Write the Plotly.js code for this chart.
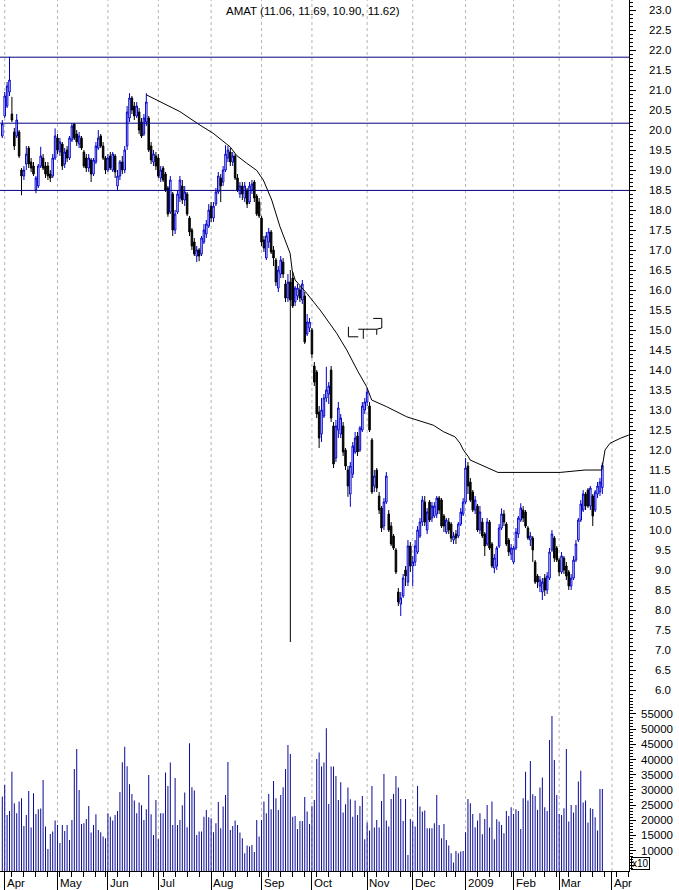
<!DOCTYPE html>
<html>
<head>
<meta charset="utf-8">
<script src="https://cdn.plot.ly/plotly-3.0.1.min.js"></script>
<style>
  html, body { margin: 0; padding: 0; background: #fff; }
  #chart { width: 679px; height: 890px; }
</style>
</head>
<body>
<div id="chart"></div>
<script>
// ---- Data ----
const TITLE = 'AMAT (11.06, 11.69, 10.90, 11.62)';

const OPEN = [
19.85,20.35,20.60,20.95,20.40,19.95,19.85,19.95,19.00,18.85,
19.15,19.55,19.20,19.10,18.50,18.60,19.10,19.30,19.10,19.10,
18.90,18.85,19.30,19.80,19.45,19.65,19.15,19.50,19.30,19.75,
20.15,19.90,19.65,19.80,19.45,19.30,19.05,19.25,18.90,19.20,
19.55,19.85,19.60,19.30,19.00,19.35,19.00,19.35,18.60,18.85,
19.20,19.00,19.60,20.30,20.80,20.60,20.35,20.45,20.20,19.90,
20.20,20.30,19.60,19.20,19.35,19.30,18.80,19.05,18.90,18.55,
17.95,18.40,17.50,17.95,18.30,18.60,18.25,18.40,17.80,17.50,
17.20,16.85,17.00,16.90,17.20,17.40,17.60,18.10,17.80,18.15,
18.45,18.80,18.70,19.00,19.30,19.45,19.20,19.35,18.80,18.40,
18.60,18.30,18.50,18.20,18.50,18.70,18.35,18.20,17.80,17.25,
16.80,17.20,17.45,17.00,16.75,16.05,16.40,16.70,16.15,15.80,
16.20,16.30,15.70,15.85,16.00,15.75,15.85,14.90,15.05,15.00,
14.10,13.95,12.95,12.40,12.85,13.30,13.40,14.00,12.60,11.80,
12.50,12.40,12.60,12.00,11.50,10.90,11.40,11.95,12.35,12.00,
12.50,13.00,13.20,13.10,12.25,11.10,11.50,10.85,10.55,10.10,
10.70,10.40,10.10,9.85,9.50,8.45,8.15,8.35,9.00,8.70,
9.60,9.10,9.20,9.45,9.85,10.20,10.70,10.00,10.70,10.30,
10.35,10.40,10.80,10.75,10.35,9.95,10.20,10.15,9.75,9.90,
9.85,10.15,10.40,10.70,11.60,11.20,10.95,10.50,10.60,10.00,
10.20,9.90,9.65,10.20,9.65,9.05,9.10,9.60,10.05,10.40,
10.15,9.75,9.40,9.20,9.55,9.90,10.25,10.50,10.45,10.05,
9.75,9.80,9.20,8.85,8.60,8.45,8.80,8.50,8.80,9.50,
9.80,9.55,9.25,8.95,9.30,9.10,8.95,8.60,8.80,9.25,
9.75,10.25,10.50,10.90,11.00,10.60,10.85,10.50,10.90,10.95,
11.06];

const HIGH = [
20.25,20.95,21.20,21.83,20.83,20.05,20.40,20.00,19.05,19.10,
19.60,19.60,19.30,19.20,18.85,19.15,19.58,19.40,19.20,19.20,
19.00,19.40,20.04,19.90,19.80,19.70,19.55,19.60,19.85,20.17,
20.17,20.00,19.95,19.85,19.50,19.40,19.40,19.30,19.30,19.70,
20.00,19.90,19.70,19.35,19.40,19.45,19.45,19.40,19.00,19.25,
19.35,19.60,20.60,20.92,20.85,20.70,20.70,20.55,20.30,20.40,
20.92,20.35,19.70,19.50,19.45,19.40,19.10,19.10,18.95,18.60,
18.85,18.45,18.00,18.50,18.85,18.75,18.60,18.45,17.85,17.55,
17.30,17.10,17.05,17.35,17.65,17.75,18.15,18.20,18.20,18.55,
18.95,18.90,19.10,19.62,19.60,19.55,19.45,19.40,18.90,18.70,
18.70,18.70,18.55,18.70,18.75,18.75,18.40,18.30,17.85,17.35,
17.45,17.55,17.50,17.10,16.80,16.60,16.85,16.80,16.25,16.40,
16.50,16.45,16.10,16.15,16.10,16.25,15.95,15.40,15.30,15.05,
14.20,14.00,13.10,13.30,13.40,14.08,13.70,14.10,12.70,12.75,
13.20,12.90,12.70,12.05,11.60,11.70,12.20,12.45,12.45,12.60,
13.20,13.30,13.55,13.20,12.30,11.50,11.55,10.95,10.60,10.80,
11.45,10.50,10.20,9.90,9.55,8.55,8.45,8.90,9.10,9.75,
9.70,9.35,9.75,10.10,10.30,10.85,10.85,10.55,10.75,10.70,
10.70,10.85,10.85,10.80,10.40,10.30,10.30,10.20,9.95,10.00,
10.20,10.55,10.80,11.80,11.70,11.30,11.00,10.85,10.65,10.60,
10.30,9.95,10.30,10.25,9.70,9.40,9.60,10.15,10.54,10.50,
10.20,9.80,9.65,9.60,10.05,10.35,10.67,10.60,10.50,10.10,
9.95,9.85,9.25,8.90,8.85,8.80,8.90,8.95,9.55,10.00,
9.85,9.60,9.30,9.45,9.35,9.20,9.00,8.90,9.35,9.75,
10.30,10.75,11.00,10.95,11.05,11.10,10.90,11.00,11.20,11.30,
11.69];

const LOW = [
19.80,20.30,20.55,20.85,20.20,19.50,19.80,19.30,18.37,18.75,
19.00,19.05,18.95,18.85,18.42,18.55,19.05,19.00,18.80,18.75,
18.70,18.80,19.25,19.40,19.35,19.00,19.05,19.20,19.25,19.70,
19.75,19.60,19.55,19.50,19.05,18.95,18.95,18.70,18.85,19.15,
19.50,19.55,19.25,18.90,18.95,19.00,18.95,18.80,18.50,18.75,
18.90,18.92,19.50,20.20,20.40,20.25,20.30,19.90,19.80,19.85,
20.10,19.45,19.15,19.10,19.00,18.80,18.70,18.70,18.45,17.83,
17.90,17.35,17.40,17.90,18.20,18.15,18.10,17.85,17.35,17.00,
16.85,16.70,16.72,16.85,17.15,17.30,17.55,17.70,17.70,18.10,
18.40,18.20,18.60,18.95,19.20,19.10,19.10,18.75,18.45,18.30,
18.25,18.20,18.05,18.15,18.40,18.20,17.85,17.80,17.10,16.95,
16.75,17.05,16.90,16.60,16.10,15.95,16.30,16.30,15.70,15.70,
7.20,15.55,15.60,15.75,15.70,15.65,14.65,14.85,14.95,14.30,
13.60,12.80,12.05,12.20,12.80,13.20,13.15,12.70,11.55,11.70,
12.30,12.30,11.85,11.50,10.83,10.58,11.30,11.90,11.85,11.95,
12.45,12.90,13.10,12.45,10.90,10.95,10.95,10.40,9.95,10.00,
10.65,9.95,9.60,9.50,8.90,8.10,7.85,8.30,8.60,8.60,
8.95,8.60,9.10,9.40,9.80,10.10,10.10,9.90,10.20,10.20,
10.30,10.30,10.40,10.05,9.95,9.90,9.90,9.70,9.65,9.65,
9.80,10.10,10.35,10.65,10.90,10.70,10.45,10.40,9.95,9.90,
9.80,9.35,9.60,9.50,9.05,8.92,9.00,9.55,10.00,10.10,
9.60,9.35,9.25,9.15,9.50,9.80,10.20,10.20,10.05,9.75,
9.60,9.20,8.65,8.55,8.45,8.25,8.35,8.40,8.75,9.45,
9.20,9.20,8.85,8.90,8.90,8.75,8.50,8.50,8.75,9.20,
9.70,10.20,10.45,10.50,10.55,10.50,10.10,10.45,10.80,10.85,
10.90];

const CLOSE = [
20.15,20.85,21.10,21.25,20.25,19.60,20.25,19.35,18.85,19.00,
19.40,19.15,19.05,18.90,18.80,19.10,19.35,19.05,18.90,18.85,
18.80,19.30,19.85,19.50,19.70,19.10,19.45,19.30,19.80,20.10,
19.80,19.70,19.85,19.55,19.10,19.05,19.30,18.90,19.25,19.60,
19.80,19.60,19.30,19.00,19.30,19.05,19.40,18.95,18.85,19.20,
19.00,19.50,20.45,20.80,20.50,20.35,20.60,20.00,19.85,20.30,
20.70,19.50,19.25,19.40,19.10,18.85,19.00,18.75,18.50,17.90,
18.75,17.50,17.90,18.40,18.75,18.25,18.45,17.90,17.45,17.10,
16.90,17.00,16.85,17.30,17.50,17.65,18.00,17.80,18.10,18.45,
18.85,18.60,19.00,19.40,19.50,19.20,19.35,18.80,18.50,18.60,
18.40,18.60,18.15,18.60,18.65,18.30,17.90,17.85,17.20,17.05,
17.35,17.45,16.95,16.80,16.20,16.50,16.75,16.40,15.80,16.20,
15.75,15.60,16.05,16.05,15.80,16.15,14.70,15.20,15.20,14.40,
13.70,12.90,12.30,13.00,13.30,13.50,13.60,12.80,11.65,12.60,
13.05,12.80,11.95,11.60,11.10,11.60,12.10,12.30,11.95,12.55,
13.10,13.20,13.45,12.50,10.95,11.35,11.05,10.50,10.05,10.70,
11.35,10.00,9.65,9.55,8.95,8.20,8.30,8.80,8.85,9.60,
9.10,9.20,9.60,10.00,10.20,10.75,10.20,10.45,10.25,10.60,
10.60,10.80,10.50,10.10,10.10,10.25,10.00,9.80,9.85,9.80,
10.15,10.45,10.70,11.55,11.10,10.75,10.50,10.75,10.00,10.45,
9.85,9.60,10.20,9.55,9.10,9.30,9.55,10.05,10.40,10.20,
9.65,9.45,9.55,9.55,9.95,10.30,10.55,10.30,10.10,9.80,
9.85,9.50,8.70,8.70,8.75,8.70,8.50,8.85,9.45,9.90,
9.30,9.25,8.95,9.35,9.00,8.85,8.60,8.80,9.25,9.65,
10.25,10.65,10.90,10.60,10.60,11.05,10.35,10.95,11.10,11.20,
11.62];

const VOLUME = [
27800,31600,21750,23080,36000,25600,22300,26150,27250,18150,
21750,29650,17600,28900,22100,23630,23850,33280,17930,10580,
15500,16280,19900,18470,12550,18470,16500,18470,13540,20120,
36900,43480,30000,18800,19020,20450,24730,15950,18470,21980,
16830,16060,14630,14080,22300,21200,19900,21750,23080,29330,
39100,44250,37780,31860,28670,26480,22300,25820,24940,20120,
23630,34930,21980,15180,26700,13760,22300,22300,35700,31310,
38990,18470,33940,18470,20120,24940,29110,17710,45350,30870,
29770,15180,16280,16280,21200,23410,20990,20650,16060,19020,
26040,17380,24510,28350,39210,16830,18150,19900,18470,15950,
14080,9150,11670,11340,11890,9580,20120,14630,20120,26150,
22300,28670,23630,32950,27250,23410,28350,30870,36900,44800,
41840,21200,21440,17160,19790,19790,27690,22860,18800,24730,
26700,40190,42280,37670,38990,50290,25380,37670,37670,34600,
26700,32510,22530,25270,30760,26920,21200,26480,21750,24730,
28020,13760,19240,16600,31310,17600,20120,17600,26370,35260,
19900,17930,27030,28670,34600,30760,27030,19790,27030,8600,
20450,19570,17930,31310,24510,22860,23190,17380,17380,17380,
19020,28350,18470,14080,18800,13540,11670,9150,6080,9920,
9150,9700,9920,16060,27030,25600,22090,17710,19900,22300,
15400,20450,25050,17600,26150,13760,20340,19570,18470,15730,
23080,21440,24290,22090,23630,23080,17160,27250,36020,26480,
39530,28570,28020,23410,30760,34050,24290,23080,46450,54340,
39860,28350,22090,21750,23960,43480,19570,25050,22530,25050,
32730,36350,25820,26480,19240,23960,23740,21000,16600,30320,
30320];

// Curve drawn over the price (trading-day position, price)
const CURVE_X = [60,74,82.4,87.8,94.9,97.7,101.8,106,108.75,112.25,115.7,119.9,120.8,122,126.8,132.4,139.3,143.5,148.2,151.8,153.9,160.2,168.5,172.7,179.6,183.75,188.6,190.7,192.1,194.2,194.9,206.5,232.4,242.8,249.75,251.1,253.2,257.4,261];
const CURVE_Y = [20.88,20.46,20.12,19.92,19.58,19.36,19.17,18.99,18.75,18.25,17.58,16.92,16.48,16.25,15.92,15.5,14.92,14.5,13.96,13.58,13.25,13.08,12.83,12.75,12.62,12.46,12.33,12.17,12.0,11.83,11.75,11.44,11.44,11.5,11.5,12.0,12.17,12.29,12.375];

// Horizontal levels
const LEVELS = [21.82, 20.17, 18.49];

// Time axis (trading-day positions of month starts / week ends)
const MONTH_IDX = [1,23,44,65,87,108,129,152,171,193,213,232,254];
const MONTH_LABELS = ['Apr','May','Jun','Jul','Aug','Sep','Oct','Nov','Dec','2009','Feb','Mar','Apr'];
const WEEK_IDX = [4,9,14,19,24,29,34,39,43,48,53,58,63,67,72,77,82,87,92,97,102,107,111,116,121,126,131,136,141,146,151,156,161,166,170,175,180,185,189,193,198,203,207,212,217,222,226,231,236,241,246,251,256,261];

const PRICE_TICKS = [6.0,6.5,7.0,7.5,8.0,8.5,9.0,9.5,10.0,10.5,11.0,11.5,12.0,12.5,13.0,13.5,14.0,14.5,15.0,15.5,16.0,16.5,17.0,17.5,18.0,18.5,19.0,19.5,20.0,20.5,21.0,21.5,22.0,22.5,23.0];
const VOL_TICKS = [10000,15000,20000,25000,30000,35000,40000,45000,50000,55000];

// ---- Build chart ----
const X = CLOSE.map((_, i) => i);
const VX = VOLUME.map((_, i) => i);
const FONT = {family: 'Liberation Sans, Arial, sans-serif', size: 11.5, color: '#000'};

const traces = [
  {
    type: 'candlestick', x: X, open: OPEN, high: HIGH, low: LOW, close: CLOSE,
    xaxis: 'x', yaxis: 'y',
    increasing: {line: {color: '#0000cc', width: 1}, fillcolor: '#ffffff'},
    decreasing: {line: {color: '#000000', width: 1}, fillcolor: '#000000'},
    whiskerwidth: 0, showlegend: false, hoverinfo: 'skip'
  },
  {
    type: 'scatter', mode: 'lines', x: CURVE_X, y: CURVE_Y, xaxis: 'x', yaxis: 'y',
    line: {color: '#000000', width: 1}, showlegend: false, hoverinfo: 'skip'
  },
  {
    type: 'bar', x: VX, y: VOLUME, xaxis: 'x', yaxis: 'y2',
    marker: {color: '#0c0c96', line: {width: 0}}, width: 0.42,
    showlegend: false, hoverinfo: 'skip'
  }
];

const shapes = [];
MONTH_IDX.forEach(m => shapes.push({
  type: 'line', xref: 'x', yref: 'paper', x0: m, x1: m, y0: 0, y1: 1, layer: 'below',
  line: {color: '#b4b4b4', width: 1, dash: '3px,3px'}
}));
LEVELS.forEach(v => shapes.push({
  type: 'line', xref: 'paper', yref: 'y', x0: 0, x1: 1, y0: v, y1: v,
  line: {color: '#000080', width: 1}
}));
// small drawn glyph
shapes.push({
  type: 'path', xref: 'x', yref: 'y',
  path: 'M144.2,15.08 L144.2,14.83 L148.3,14.83 M148.3,15.02 L156.0,15.02 M150.4,15.02 L150.4,14.78 M156.0,15.02 L156.0,14.88 M154.5,15.29 L158.1,15.29 L158.1,15.05 L156.0,15.02',
  line: {color: '#000000', width: 1}
});

const annotations = [];
annotations.push({xref: 'paper', yref: 'paper', x: 0.497, y: 1, xanchor: 'center', yanchor: 'top', yshift: -3,
  text: TITLE, showarrow: false, font: FONT});
PRICE_TICKS.forEach(p => annotations.push({
  xref: 'paper', yref: 'y', x: 1, y: p, xanchor: 'right', yanchor: 'middle', xshift: 44,
  text: p.toFixed(1), showarrow: false, font: FONT
}));
VOL_TICKS.forEach(v => annotations.push({
  xref: 'paper', yref: 'y2', x: 1, y: v, xanchor: 'right', yanchor: 'middle', xshift: 46,
  text: String(v), showarrow: false, font: FONT
}));
MONTH_IDX.forEach((m, k) => annotations.push({
  xref: 'x', yref: 'paper', x: m, y: 0, xanchor: 'left', yanchor: 'top', xshift: 0, yshift: -4,
  text: MONTH_LABELS[k], showarrow: false, font: FONT
}));
annotations.push({xref: 'paper', yref: 'y2', x: 1, y: 5900, xanchor: 'left', yanchor: 'middle', xshift: 2,
  text: 'x10', showarrow: false, font: {family: FONT.family, size: 10, color: '#000'},
  bordercolor: '#000', borderwidth: 1, borderpad: 0});

const layout = {
  width: 679, height: 890,
  margin: {l: 0, r: 50, t: 0, b: 19, pad: 0},
  paper_bgcolor: '#ffffff', plot_bgcolor: '#ffffff',
  font: FONT,
  showlegend: false,
  dragmode: false,
  boxgap: 0.1,
  xaxis: {
    range: [-0.96, 261.1], anchor: 'y2',
    rangeslider: {visible: false},
    showgrid: false, zeroline: false,
    showline: true, linecolor: '#000', linewidth: 1,
    tickmode: 'array', tickvals: MONTH_IDX, ticks: 'outside', ticklen: 18, tickcolor: '#000', tickwidth: 1,
    showticklabels: false,
    minor: {tickmode: 'array', tickvals: WEEK_IDX, ticks: 'outside', ticklen: 5, tickcolor: '#000', tickwidth: 1, showgrid: false}
  },
  yaxis: {
    domain: [0.1963, 1], range: [5.75, 23.25], side: 'right', anchor: 'x',
    showgrid: false, zeroline: false,
    showline: true, linecolor: '#000', linewidth: 1,
    tickmode: 'linear', tick0: 6, dtick: 0.5, ticks: 'outside', ticklen: 6, tickcolor: '#000', tickwidth: 1,
    showticklabels: false,
    minor: {dtick: 0.1, ticks: 'outside', ticklen: 3, tickcolor: '#000', tickwidth: 1, showgrid: false}
  },
  yaxis2: {
    domain: [0, 0.1963], range: [3300, 59600], side: 'right', anchor: 'x',
    showgrid: false, zeroline: false,
    showline: true, linecolor: '#000', linewidth: 1,
    tickmode: 'linear', tick0: 0, dtick: 5000, ticks: 'outside', ticklen: 6, tickcolor: '#000', tickwidth: 1,
    showticklabels: false,
    minor: {dtick: 1000, ticks: 'outside', ticklen: 3, tickcolor: '#000', tickwidth: 1, showgrid: false}
  },
  shapes: shapes,
  annotations: annotations
};

Plotly.newPlot('chart', traces, layout, {staticPlot: true, displayModeBar: false});
</script>
</body>
</html>
